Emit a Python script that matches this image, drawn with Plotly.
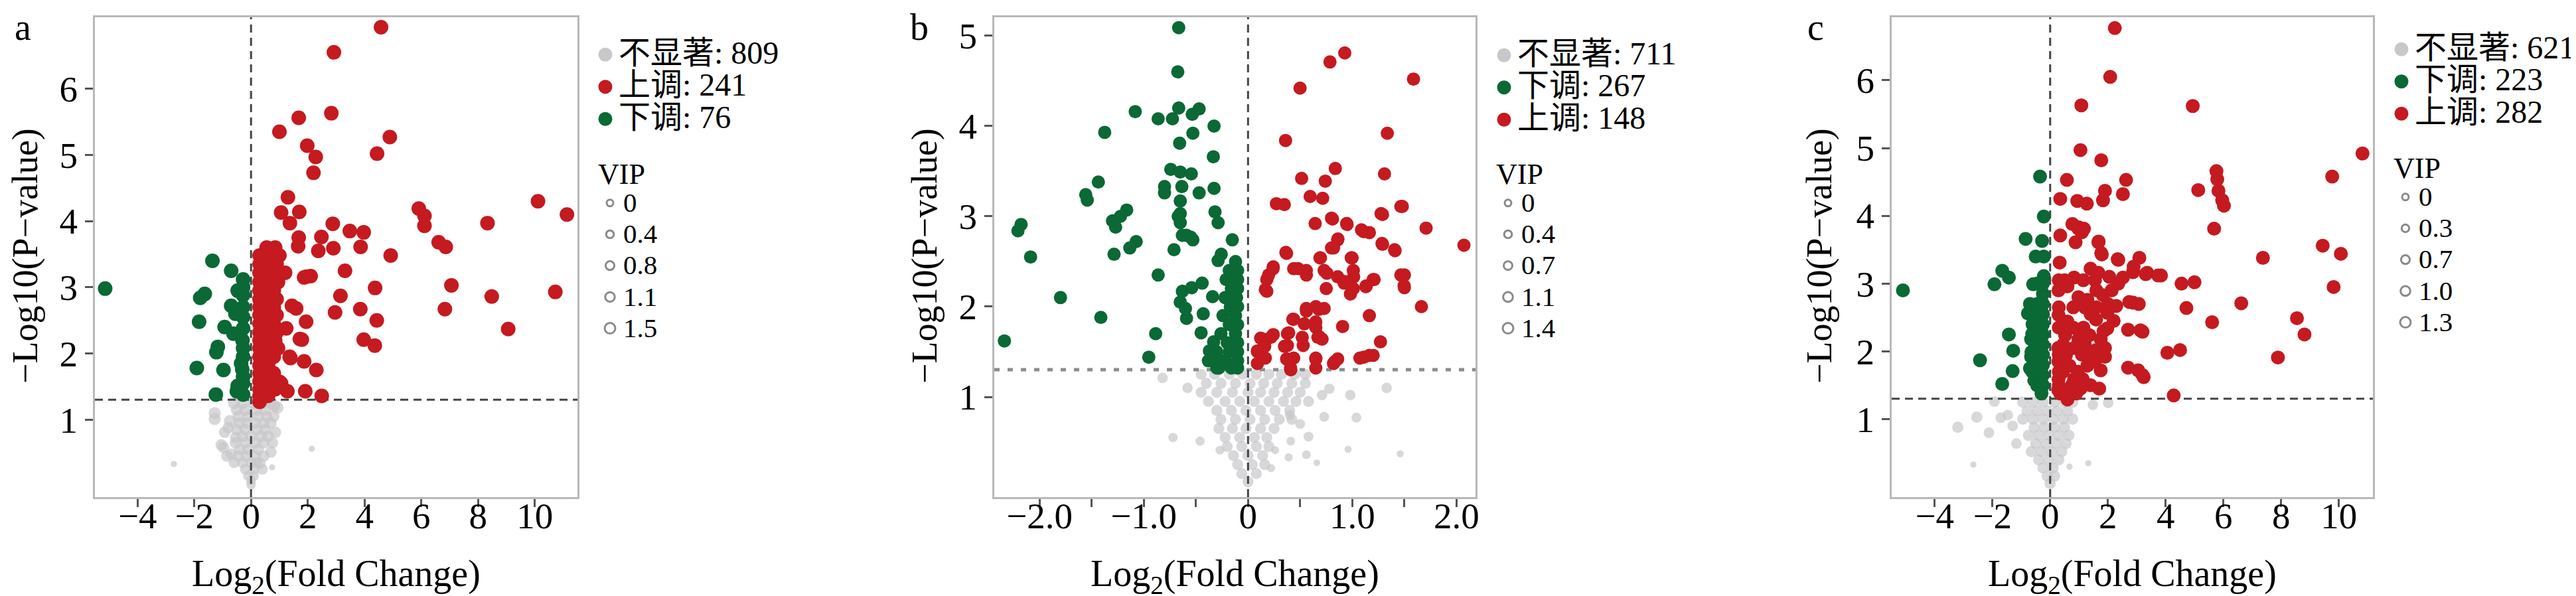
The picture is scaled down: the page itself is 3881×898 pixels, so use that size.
import plotly.graph_objects as go

W, H = 3881, 898
FONT = "Liberation Serif, Noto Sans CJK SC, serif"
RED, GREEN, GREY = "#C41A20", "#0A6934", "#C8C8CA"
P_CUT = 0.05
THR = 1.30103  # -log10(0.05)

# ---------------- panel a ----------------
a_up_x = [4.58, 2.92, 2.83, 1.68, 1.00, 4.89, 1.98, 2.28,
          4.44, 2.20, 1.30, 1.06, 1.70, 1.37, 2.88, 3.48,
          3.97, 5.91, 6.11, 6.11, 10.11, 11.13, 8.33, 6.61,
          6.86, 4.92, 3.86, 2.90, 2.48, 2.37, 1.68, 1.66,
          3.31, 7.06, 4.37, 10.72, 8.48, 3.15, 2.96, 3.85,
          6.83, 4.43, 9.06, 1.94, 1.59, 1.94, 1.72, 3.97,
          4.36, 1.87, 2.30, 1.91, 2.49, 1.28, 1.06, 1.39,
          1.79, 1.44, 1.24, 1.36, 1.87, 2.10, 1.01, 0.30,
          0.55, 0.85, 0.30, 0.70, 1.00, 0.30, 0.60, 0.90,
          0.30, 0.55, 0.85, 1.20, 0.30, 0.60, 0.95, 0.30,
          0.55, 0.80, 0.30, 0.60, 0.90, 0.30, 0.55, 0.80,
          0.30, 0.60, 0.90, 0.30, 0.55, 0.80, 0.30, 0.60,
          0.90, 0.30, 0.55, 0.85, 0.30, 0.60, 0.95, 0.30,
          0.55, 0.80, 0.30, 0.60, 0.30, 0.55, 0.80, 0.30,
          0.60, 0.30, 0.55, 0.85, 0.30, 0.60]
a_up_y = [6.93, 6.55, 5.63, 5.56, 5.35, 5.27, 5.14, 4.97,
          5.02, 4.73, 4.36, 4.13, 4.14, 3.97, 3.96, 3.85,
          3.83, 4.19, 4.08, 3.93, 4.30, 4.10, 3.97, 3.68,
          3.61, 3.48, 3.61, 3.59, 3.76, 3.55, 3.75, 3.62,
          3.25, 3.03, 2.99, 2.93, 2.86, 2.87, 2.62, 2.67,
          2.67, 2.50, 2.37, 2.48, 2.68, 3.16, 2.22, 2.21,
          2.12, 1.88, 1.75, 1.43, 1.36, 1.43, 1.55, 1.93,
          2.21, 2.72, 2.38, 1.95, 3.15, 3.17, 1.57, 1.27,
          3.60, 3.60, 3.48, 3.48, 3.48, 3.35, 3.35, 3.35,
          3.22, 3.22, 3.22, 3.22, 3.08, 3.08, 3.08, 2.95,
          2.95, 2.95, 2.82, 2.82, 2.82, 2.70, 2.70, 2.70,
          2.58, 2.58, 2.58, 2.45, 2.45, 2.45, 2.32, 2.32,
          2.32, 2.20, 2.20, 2.20, 2.08, 2.08, 2.08, 1.95,
          1.95, 1.95, 1.82, 1.82, 1.70, 1.70, 1.70, 1.58,
          1.58, 1.46, 1.46, 1.46, 1.36, 1.36]
a_down_x = [-5.14, -1.36, -0.70, -0.28, -1.63, -1.79, -0.47, -0.28,
            -0.70, -0.28, -1.83, -0.28, -0.93, -0.62, -0.28, -1.17,
            -1.22, -0.28, -0.30, -1.91, -0.97, -0.31, -0.47, -0.28,
            -1.24, -0.28, -0.28, -0.50, -0.28, -0.35, -0.28, -0.55]
a_down_y = [2.98, 3.40, 3.25, 3.12, 2.90, 2.84, 2.95, 2.88,
            2.72, 2.70, 2.48, 2.55, 2.40, 2.30, 2.38, 2.10,
            2.02, 2.08, 2.20, 1.78, 1.75, 1.76, 1.51, 1.55,
            1.38, 1.38, 1.95, 1.43, 1.65, 1.85, 3.00, 2.60]
a_ns_x = [-2.72, 2.14, 0.74, -1.28, -1.28, -0.74, -0.93, -0.54,
          -0.97, -0.70, 0.82, 0.93, 0.86, 0.70, 0.31, 0.00,
          -0.60, -0.30, 0.10, 0.40, 0.70, -0.50, -0.20, 0.20,
          0.50, -0.45, -0.10, 0.25, 0.55, -0.40, -0.15, 0.15,
          0.45, 0.70, -0.50, -0.20, 0.20, 0.50, -0.30, 0.00,
          0.35, 0.60, -0.55, -0.20, 0.15, 0.45, -0.40, -0.10,
          0.25, -0.45, -0.15, 0.15, 0.45, -0.30, 0.00, 0.20,
          -0.20, 0.10, -0.10, 0.10, 0.00, -1.05, -0.85, -0.80,
          0.80, 0.75, -0.60, 0.40]
a_ns_y = [0.33, 0.56, 0.28, 1.10, 1.01, 0.98, 0.81, 0.73,
          0.58, 0.48, 1.21, 1.18, 0.81, 0.51, 0.34, 0.02,
          1.25, 1.25, 1.25, 1.25, 1.25, 1.15, 1.15, 1.15,
          1.15, 1.05, 1.05, 1.05, 1.05, 0.95, 0.95, 0.95,
          0.95, 0.95, 0.85, 0.85, 0.85, 0.85, 0.75, 0.75,
          0.75, 0.75, 0.65, 0.65, 0.65, 0.65, 0.55, 0.55,
          0.55, 0.45, 0.45, 0.45, 0.45, 0.35, 0.35, 0.35,
          0.25, 0.25, 0.15, 0.15, 0.08, 0.62, 0.45, 0.88,
          1.05, 0.65, 0.35, 0.25]
a_ns_vip = [0.15, 0.15, 0.15, 1.1, 1.1, 1.1, 1.0, 1.0,
            1.0, 1.0, 1.1, 1.1, 1.0, 1.0, 1.0, 0.7,
            1.1, 1.1, 1.1, 1.1, 1.1, 1.1, 1.1, 1.1,
            1.1, 1.0, 1.0, 1.0, 1.0, 1.0, 1.0, 1.0,
            1.0, 1.0, 1.0, 1.0, 1.0, 1.0, 1.0, 1.0,
            1.0, 1.0, 1.0, 1.0, 1.0, 1.0, 1.0, 1.0,
            1.0, 1.0, 1.0, 1.0, 1.0, 0.9, 0.9, 0.9,
            0.9, 0.9, 0.8, 0.8, 0.7, 1.0, 1.0, 1.0,
            1.0, 1.0, 0.9, 0.9]
a_counts = {"ns": 809, "up": 241, "down": 76}
a_vip_labels = ["0", "0.4", "0.8", "1.1", "1.5"]

# ---------------- panel b ----------------
b_down_x = [-0.665, -0.674, -1.082, -0.862, -0.725, -0.665, -0.535, -0.469,
            -0.326, -1.375, -0.529, -0.656, -0.333, -0.741, -0.650, -0.544,
            -1.436, -1.557, -1.542, -0.801, -0.801, -0.635, -0.469, -0.326,
            -0.650, -0.650, -0.317, -0.287, -1.164, -1.224, -1.300, -1.270,
            -0.650, -2.177, -2.207, -0.590, -0.529, -0.151, -1.073, -1.134,
            -1.285, -0.710, -2.086, -0.257, -0.287, -0.862, -0.440, -0.540,
            -0.630, -0.650, -0.600, -0.590, -0.430, -0.340, -0.450, -1.799,
            -1.412, -0.886, -2.337, -0.952, -0.330, -0.370, -0.330, -0.300,
            -0.670, -0.550, -0.630,
            -0.12, -0.18, -0.10, -0.21, -0.10, -0.16, -0.10, -0.22,
            -0.11, -0.17, -0.10, -0.24, -0.12, -0.18, -0.10, -0.26,
            -0.12, -0.20, -0.10, -0.30, -0.18, -0.10, -0.38, -0.22,
            -0.10, -0.28, -0.16, -0.10]
b_down_y = [5.09, 4.60, 4.16, 4.08, 4.08, 4.20, 4.13, 4.19,
            4.00, 3.93, 3.92, 3.81, 3.66, 3.52, 3.49, 3.47,
            3.38, 3.24, 3.18, 3.33, 3.26, 3.33, 3.26, 3.31,
            3.17, 3.03, 3.05, 2.93, 3.07, 3.00, 2.95, 2.88,
            2.93, 2.91, 2.84, 2.79, 2.74, 2.74, 2.72, 2.65,
            2.58, 2.63, 2.55, 2.58, 2.51, 2.35, 2.26, 2.21,
            2.17, 2.05, 1.98, 1.87, 1.92, 2.11, 1.71, 2.10,
            1.88, 1.70, 1.62, 1.44, 1.61, 1.51, 1.41, 1.32,
            3.00, 2.77, 2.79,
            2.50, 2.40, 2.40, 2.30, 2.30, 2.20, 2.20, 2.10,
            2.10, 2.00, 2.00, 1.90, 1.90, 1.80, 1.80, 1.70,
            1.70, 1.60, 1.60, 1.50, 1.50, 1.50, 1.40, 1.40,
            1.40, 1.32, 1.32, 1.32]
b_up_x = [0.928, 0.786, 1.587, 0.499, 1.336, 0.360, 0.837, 1.309,
          0.514, 0.741, 0.596, 0.716, 0.272, 0.348, 1.466, 1.276,
          0.801, 0.644, 0.946, 1.088, 1.164, 1.708, 2.071, 1.285,
          1.406, 0.862, 0.801, 0.363, 0.695, 0.998, 0.242, 0.197,
          0.438, 0.559, 0.756, 0.922, 1.013, 1.209, 1.134, 1.466,
          1.497, 0.982, 0.166, 1.663, 1.164, 0.559, 0.680, 0.438,
          0.907, 0.650, 0.378, 0.680, 0.121, 0.242, 0.378, 1.270,
          0.091, 0.529, 0.650, 0.831, 1.073, 1.164, 0.408, 0.166,
          0.438,
          0.81, 0.95, 1.29, 1.48, 1.11, 0.86, 0.82, 1.29,
          1.41, 0.37, 0.24, 0.18, 0.18, 0.48, 0.56, 0.69,
          0.73, 0.75, 0.99, 1.01, 1.01, 0.86, 0.92, 1.20,
          1.13, 1.50, 1.50, 0.65, 0.73, 0.56, 0.43, 0.54,
          0.65, 0.39, 0.52, 0.67, 0.71, 0.14, 0.22, 0.09,
          0.16, 0.09, 0.35, 0.37, 0.41, 0.65, 0.65, 0.82,
          0.86, 1.11, 1.20]
b_up_y = [4.81, 4.71, 4.52, 4.42, 3.92, 3.84, 3.53, 3.47,
          3.42, 3.39, 3.22, 3.20, 3.14, 3.13, 3.11, 3.03,
          2.98, 2.92, 2.92, 2.85, 2.82, 2.87, 2.68, 2.70,
          2.63, 2.75, 2.65, 2.60, 2.54, 2.54, 2.44, 2.35,
          2.42, 2.40, 2.37, 2.26, 2.33, 2.30, 2.23, 2.35,
          2.23, 2.14, 2.19, 2.00, 1.90, 1.98, 1.97, 1.86,
          1.78, 1.77, 1.70, 1.67, 1.65, 1.69, 1.57, 1.61,
          1.50, 1.57, 1.43, 1.39, 1.43, 1.46, 1.32, 1.43,
          1.43,
          2.97, 2.91, 3.02, 3.11, 2.83, 2.74, 2.65, 2.69,
          2.62, 2.59, 2.42, 2.30, 2.17, 2.42, 2.35, 2.54,
          2.40, 2.20, 2.54, 2.40, 2.20, 2.33, 2.28, 2.30,
          2.22, 2.35, 2.21, 2.00, 1.98, 1.95, 1.86, 1.81,
          1.83, 1.71, 1.66, 1.66, 1.64, 1.64, 1.66, 1.51,
          1.56, 1.37, 1.56, 1.42, 1.30, 1.42, 1.32, 1.37,
          1.42, 1.44, 1.46]
b_ns_x = [-0.45, -0.32, -0.18, -0.05, 0.08, 0.20, 0.32, 0.45, 0.55,
          -0.40, -0.26, -0.12, 0.02, 0.15, 0.28, 0.42, 0.55,
          -0.45, -0.30, -0.15, 0.00, 0.12, 0.25, 0.38, 0.50,
          -0.38, -0.22, -0.08, 0.06, 0.20, 0.34, 0.46, 0.58,
          -0.30, -0.16, -0.02, 0.12, 0.26, 0.40,
          -0.26, -0.12, 0.02, 0.16, 0.30, 0.42,
          -0.28, -0.15, -0.02, 0.12, 0.25,
          -0.22, -0.08, 0.06, 0.18,
          -0.20, -0.06, 0.08, 0.20,
          -0.14, 0.00, 0.14,
          -0.10, 0.04, 0.16,
          -0.06, 0.08,
          0.00,
          -0.82, -0.58, -0.72, -0.46, -0.27, 0.78, 0.71, 0.98,
          1.33, 0.73, 1.04, 0.58, 0.56, 0.41, 0.39, 0.96,
          1.46, 0.66, 0.26, 0.22, 0.40, 0.50]
b_ns_y = [1.25, 1.25, 1.25, 1.25, 1.25, 1.25, 1.25, 1.25, 1.25,
          1.15, 1.15, 1.15, 1.15, 1.15, 1.15, 1.15, 1.15,
          1.05, 1.05, 1.05, 1.05, 1.05, 1.05, 1.05, 1.05,
          0.95, 0.95, 0.95, 0.95, 0.95, 0.95, 0.95, 0.95,
          0.85, 0.85, 0.85, 0.85, 0.85, 0.85,
          0.75, 0.75, 0.75, 0.75, 0.75, 0.75,
          0.65, 0.65, 0.65, 0.65, 0.65,
          0.55, 0.55, 0.55, 0.55,
          0.45, 0.45, 0.45, 0.45,
          0.35, 0.35, 0.35,
          0.25, 0.25, 0.25,
          0.15, 0.15,
          0.06,
          1.21, 1.10, 0.55, 0.51, 0.41, 1.09, 1.02, 1.02,
          1.10, 0.78, 0.77, 0.56, 0.36, 0.51, 0.33, 0.42,
          0.37, 0.27, 0.41, 0.21, 0.80, 0.70]
b_ns_vip = [1.0] * 67 + [0.9, 0.9, 0.7, 0.7, 0.6, 0.9, 0.9, 0.9,
                         0.9, 0.8, 0.8, 0.8, 0.6, 0.6, 0.5, 0.3,
                         0.3, 0.2, 0.5, 0.5, 0.8, 0.8]
b_counts = {"ns": 711, "down": 267, "up": 148}
b_vip_labels = ["0", "0.4", "0.7", "1.1", "1.4"]

# ---------------- panel c ----------------
c_up_x = [2.24, 2.08, 1.08, 4.94, 1.05, 1.77, 10.82, 9.77,
          5.76, 5.79, 5.83, 5.96, 6.02, 5.13, 0.58, 2.63,
          1.90, 1.83, 2.52, 0.35, 0.94, 1.27, 5.68, 0.77,
          0.99, 1.10, 0.35, 0.88, 1.68, 1.77, 9.44, 10.07,
          7.37, 2.34, 3.09, 0.33, 2.87, 3.31, 3.84, 4.55,
          5.00, 9.82, 6.62, 4.72, 2.87, 3.07, 5.61, 8.55,
          8.81, 2.70, 3.20, 4.06, 4.50, 7.89, 2.70, 3.20,
          4.28,
          0.98, 1.17, 1.67, 1.79, 2.36, 2.89, 3.36, 3.74,
          1.40, 1.67, 0.83, 0.60, 2.36, 2.52, 0.29, 0.98,
          1.29, 1.83, 2.13, 2.74, 0.29, 0.60, 1.59, 1.98,
          2.29, 3.13, 0.52, 0.98, 1.36, 1.75, 1.98, 0.28,
          0.83, 1.59, 1.90, 0.29, 0.67, 1.29, 1.75, 3.05,
          3.24, 0.29, 0.83, 1.13, 0.28, 0.52, 0.60,
          0.30, 0.50, 1.15, 1.55, 0.30, 0.80, 1.20, 1.60,
          0.30, 0.80, 1.15, 0.45, 1.20, 0.30, 0.55, 1.10,
          1.35, 0.30, 0.45, 0.95, 0.30, 0.75, 1.40, 0.35,
          0.90, 1.60, 2.00, 1.40, 1.85, 1.55, 1.70, 1.05,
          1.90, 2.20, 2.05]
c_up_y = [6.77, 6.05, 5.63, 5.62, 4.97, 4.82, 4.92, 4.58,
          4.66, 4.54, 4.37, 4.23, 4.15, 4.38, 4.53, 4.53,
          4.37, 4.23, 4.32, 4.25, 4.22, 4.18, 3.81, 3.88,
          3.83, 3.76, 3.71, 3.61, 3.62, 3.45, 3.56, 3.44,
          3.38, 3.36, 3.38, 3.31, 3.17, 3.14, 3.12, 3.00,
          3.02, 2.95, 2.71, 2.64, 2.72, 2.70, 2.43, 2.49,
          2.25, 2.32, 2.29, 1.98, 2.02, 1.91, 1.76, 1.65,
          1.35,
          3.81, 3.81, 3.61, 3.43, 3.35, 3.25, 3.16, 3.12,
          3.22, 3.16, 3.09, 2.96, 3.00, 3.09, 2.90, 2.80,
          2.76, 2.83, 2.90, 2.73, 2.54, 2.44, 2.47, 2.57,
          2.67, 2.31, 2.24, 2.18, 2.24, 2.18, 2.34, 2.05,
          2.05, 2.02, 1.92, 1.85, 1.79, 1.79, 1.72, 1.72,
          1.62, 1.59, 1.59, 1.59, 1.43, 1.39, 1.29,
          3.05, 3.05, 3.05, 3.05, 2.65, 2.65, 2.65, 2.65,
          2.35, 2.35, 2.35, 2.10, 2.10, 1.95, 1.95, 1.95,
          1.95, 1.70, 1.70, 1.70, 1.50, 1.50, 1.50, 1.38,
          1.38, 2.90, 2.70, 2.55, 2.30, 1.85, 1.45, 1.45,
          2.05, 2.45, 3.10]
c_down_x = [-5.10, -0.35, -0.22, -0.85, -0.28, -0.50, -0.22, -1.66,
            -1.43, -1.93, -0.22, -0.59, -0.77, -1.43, -0.66, -1.28,
            -2.43, -1.30, -1.66, -0.66, -0.55, -0.61, -0.70, -0.70,
            -0.45, -0.25, -0.25, -0.45, -0.25, -0.25, -0.45, -0.25,
            -0.25, -0.45, -0.25, -0.25, -0.45, -0.25, -0.25, -0.45,
            -0.25, -0.30, -0.65, -0.62, -0.65, -0.62]
c_down_y = [2.90, 4.58, 3.99, 3.66, 3.63, 3.40, 3.40, 3.19,
            3.09, 2.99, 3.11, 2.99, 2.56, 2.25, 2.18, 2.01,
            1.87, 1.71, 1.52, 1.92, 1.57, 2.40, 2.70, 1.75,
            3.00, 3.00, 2.85, 2.70, 2.70, 2.55, 2.40, 2.40,
            2.25, 2.10, 2.10, 1.95, 1.80, 1.80, 1.65, 1.50,
            1.50, 1.38, 2.55, 2.26, 1.99, 1.70]
c_ns_x = [-3.20, -2.54, -2.12, -1.93, -1.47, -1.17, -2.66, 1.32,
          0.67, 1.48, 2.01, -1.71, -1.30,
          -0.95, -0.60, -0.25, 0.15, 0.50, 0.78,
          -0.80, -0.45, -0.10, 0.25, 0.60,
          -0.95, -0.60, -0.25, 0.10, 0.45, 0.78,
          -0.55, -0.20, 0.15, 0.50,
          -0.75, -0.40, -0.05, 0.30, 0.65,
          -0.50, -0.15, 0.20, 0.55,
          -0.65, -0.30, 0.05, 0.40,
          -0.40, -0.05, 0.30,
          -0.25, 0.10,
          -0.10, 0.15,
          0.00]
c_ns_y = [0.88, 1.03, 0.80, 1.26, 1.06, 0.64, 0.33, 0.35,
          0.30, 1.21, 1.24, 1.02, 0.90,
          1.25, 1.25, 1.25, 1.25, 1.25, 1.25,
          1.12, 1.12, 1.12, 1.12, 1.12,
          1.00, 1.00, 1.00, 1.00, 1.00, 1.00,
          0.88, 0.88, 0.88, 0.88,
          0.76, 0.76, 0.76, 0.76, 0.76,
          0.64, 0.64, 0.64, 0.64,
          0.52, 0.52, 0.52, 0.52,
          0.40, 0.40, 0.40,
          0.28, 0.28,
          0.16, 0.16,
          0.05]
c_ns_vip = [0.9, 0.9, 0.8, 0.8, 0.8, 0.8, 0.15, 0.15,
            0.15, 0.8, 0.8, 0.8, 0.8] + [0.9] * 42
c_counts = {"ns": 621, "down": 223, "up": 282}
c_vip_labels = ["0", "0.3", "0.7", "1.0", "1.3"]

NAMES = {"ns": "不显著", "up": "上调", "down": "下调"}
COLORS = {"ns": GREY, "up": RED, "down": GREEN}

panels = [
    dict(tag="a", up=(a_up_x, a_up_y), down=(a_down_x, a_down_y),
         ns=(a_ns_x, a_ns_y, a_ns_vip), counts=a_counts, vip=a_vip_labels,
         xr=[-5.5, 11.5], yr=[-0.17, 7.08], smax=22,
         xt=[-4, -2, 0, 2, 4, 6, 8, 10], xtt=None, minor=None, yt=[1, 2, 3, 4, 5, 6],
         px=(135, 862), labx=26, ytx=30, leg=(884, 45), vleg=(891, 212),
         hcol="#444444", hdash="12px,8px", hw=3),
    dict(tag="b", up=(b_up_x, b_up_y), down=(b_down_x, b_down_y),
         ns=(b_ns_x, b_ns_y, b_ns_vip), counts=b_counts, vip=b_vip_labels,
         xr=[-2.434, 2.182], yr=[-0.11, 5.205], smax=20,
         xt=[-2, -1, 0, 1, 2], xtt=["−2.0", "−1.0", "0", "1.0", "2.0"],
         minor=[-1.5, -0.5, 0.5, 1.5], yt=[1, 2, 3, 4, 5],
         px=(1490, 2215), labx=1377, ytx=1385, leg=(2238, 46), vleg=(2244, 212),
         hcol="#8C8C8C", hdash="8px,12px", hw=5),
    dict(tag="c", up=(c_up_x, c_up_y), down=(c_down_x, c_down_y),
         ns=(c_ns_x, c_ns_y, c_ns_vip), counts=c_counts, vip=c_vip_labels,
         xr=[-5.49, 11.18], yr=[-0.15, 6.93], smax=21,
         xt=[-4, -2, 0, 2, 4, 6, 8, 10], xtt=None, minor=None, yt=[1, 2, 3, 4, 5, 6],
         px=(2842, 3567), labx=2727, ytx=2733, leg=(3590, 37), vleg=(3596, 203),
         hcol="#444444", hdash="12px,8px", hw=3),
]
legend_order = {"a": ["ns", "up", "down"], "b": ["ns", "down", "up"], "c": ["ns", "down", "up"]}

PLOT_TOP, PLOT_BOT = 18, 741


def big(txt, size):
    return f"<span style='font-size:{size}px'>{txt}</span>"


fig = go.Figure()
layout = dict(width=W, height=H, paper_bgcolor="white", plot_bgcolor="white",
              margin=dict(l=0, r=0, t=0, b=0, autoexpand=False),
              font=dict(family=FONT, color="black"), annotations=[])

for i, p in enumerate(panels):
    n = "" if i == 0 else str(i + 1)
    xa, ya = "x" + n, "y" + n
    vmax = float(p["vip"][-1])
    smin = 8

    def sz(v):
        return smin + (p["smax"] - smin) * v / vmax

    # non-significant points
    fig.add_trace(go.Scatter(x=p["ns"][0], y=p["ns"][1], mode="markers", xaxis=xa, yaxis=ya,
                             marker=dict(color=GREY, size=[sz(v) for v in p["ns"][2]], line=dict(width=0)),
                             showlegend=False, hoverinfo="skip"))
    # threshold lines
    fig.add_trace(go.Scatter(x=p["xr"], y=[THR, THR], mode="lines", xaxis=xa, yaxis=ya,
                             line=dict(color=p["hcol"], width=p["hw"], dash=p["hdash"]),
                             showlegend=False, hoverinfo="skip"))
    fig.add_trace(go.Scatter(x=[0, 0], y=p["yr"], mode="lines", xaxis=xa, yaxis=ya,
                             line=dict(color="#444444", width=3, dash="12px,8px"),
                             showlegend=False, hoverinfo="skip"))
    for key in ["down", "up"]:
        fig.add_trace(go.Scatter(x=p[key][0], y=p[key][1], mode="markers", xaxis=xa, yaxis=ya,
                                 marker=dict(color=COLORS[key], size=p["smax"], line=dict(width=0)),
                                 showlegend=False, hoverinfo="skip"))

    # legend entries
    lg = "legend" if i == 0 else "legend" + str(2 * i + 1)
    vlg = "legend" + str(2 * i + 2)
    for key in legend_order[p["tag"]]:
        fig.add_trace(go.Scatter(x=[None], y=[None], mode="markers", xaxis=xa, yaxis=ya,
                                 marker=dict(color=COLORS[key], size=16, line=dict(color=COLORS[key], width=5)),
                                 name=big(f"{NAMES[key]}: {p['counts'][key]}", 48), legend=lg))
    for lab in p["vip"]:
        fig.add_trace(go.Scatter(x=[None], y=[None], mode="markers", xaxis=xa, yaxis=ya,
                                 marker=dict(symbol="circle-open", color="#8A8A8A",
                                             size=10 + 6 * float(lab) / vmax, line=dict(width=3)),
                                 name=big(lab, 41), legend=vlg))

    layout[lg] = dict(x=p["leg"][0] / W, y=1 - p["leg"][1] / H, xanchor="left", yanchor="top",
                      bgcolor="rgba(0,0,0,0)", font=dict(size=35, family=FONT, color="black"),
                      itemsizing="trace", tracegroupgap=0)
    layout[vlg] = dict(x=p["vleg"][0] / W, y=1 - p["vleg"][1] / H, xanchor="left", yanchor="top",
                       bgcolor="rgba(0,0,0,0)", font=dict(size=34, family=FONT, color="black"),
                       title=dict(text="VIP", font=dict(size=44, family=FONT, color="black")),
                       itemsizing="trace", tracegroupgap=0)

    axis_common = dict(showline=True, mirror=True, linecolor="#B8B8B8", linewidth=3,
                       ticks="outside", ticklen=12, tickwidth=3, tickcolor="#555555",
                       showgrid=False, zeroline=False,
                       tickfont=dict(size=55, family=FONT, color="black"))
    xdict = dict(axis_common, domain=[p["px"][0] / W, p["px"][1] / W], range=p["xr"],
                 anchor=ya, tickvals=p["xt"], ticklabelstandoff=-34)
    if p["xtt"] is not None:
        xdict["ticktext"] = p["xtt"]
    if p["minor"] is not None:
        xdict["minor"] = dict(tickvals=p["minor"], ticks="outside", ticklen=12, tickwidth=3,
                              tickcolor="#555555", showgrid=False)
    layout["xaxis" + n] = xdict
    layout["yaxis" + n] = dict(axis_common, domain=[1 - PLOT_BOT / H, 1 - PLOT_TOP / H],
                               range=p["yr"], anchor=xa, tickvals=p["yt"])

    # titles and panel letter
    layout["annotations"] += [
        dict(text=p["tag"], x=p["labx"] / W, y=1, xref="paper", yref="paper",
             showarrow=False, xanchor="center", yanchor="top", font=dict(size=56, family=FONT)),
        dict(text="−Log10(P−value)", x=p["ytx"] / W, y=1 - 378 / H, xref="paper", yref="paper",
             showarrow=False, textangle=-90, xanchor="center", yanchor="middle",
             font=dict(size=54, family=FONT)),
        dict(text="Log<sub>2</sub>(Fold Change)", x=(p["px"][0] + p["px"][1]) / 2 / W, y=1 - 860 / H,
             xref="paper", yref="paper", showarrow=False, xanchor="center", yanchor="middle",
             font=dict(size=56, family=FONT)),
    ]

fig.update_layout(**layout)
fig.write_html("out.html")
